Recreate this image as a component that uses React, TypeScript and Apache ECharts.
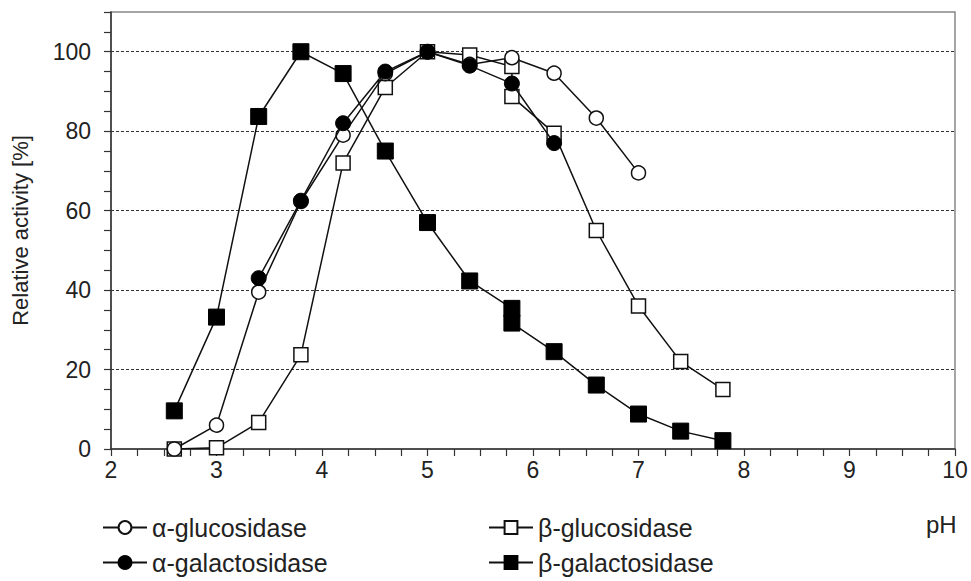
import React, { useEffect, useRef } from "react";
import * as echarts from "echarts";

const phAlphaGlc = [2.6, 3.0, 3.4, 3.8, 4.2, 4.6, 5.0, 5.4, 5.8, 6.2, 6.6, 7.0];
const alphaGlucosidase = [0, 6, 39.5, 62.3, 79, 94.5, 100, 96.8, 98.5, 94.6, 83.3, 69.5];

const phAlphaGal = [3.4, 3.8, 4.2, 4.6, 5.0, 5.4, 5.8, 6.2];
const alphaGalactosidase = [43, 62.5, 82, 95, 100, 96.5, 92, 77];

const phBetaGlc = [2.6, 3.0, 3.4, 3.8, 4.2, 4.6, 5.0, 5.4, 5.8, 5.8, 6.2, 6.6, 7.0, 7.4, 7.8];
const betaGlucosidase = [0, 0.3, 6.7, 23.7, 72, 91, 100, 99.2, 96.3, 88.7, 79.5, 55, 36, 22, 15];

const phBetaGal = [2.6, 3.0, 3.4, 3.8, 4.2, 4.6, 5.0, 5.4, 5.8, 5.8, 6.2, 6.6, 7.0, 7.4, 7.8];
const betaGalactosidase = [9.6, 33.2, 83.7, 100, 94.5, 75, 57, 42.3, 35.4, 31.7, 24.5, 16.1, 8.8, 4.5, 2.1];

const seriesNames = ["α-glucosidase", "α-galactosidase", "β-glucosidase", "β-galactosidase"];

const FONT = "'Liberation Sans', Arial, sans-serif";
const INK = "#111";

const pairs = (xs: number[], ys: number[]) => xs.map((x, i) => [x, ys[i]]);

export default function App() {
  const ref = useRef<HTMLDivElement>(null);
  useEffect(() => {
    document.body.style.margin = "0";
    if (!ref.current) return;
    const chart = echarts.init(ref.current, null, { renderer: "svg" });
    const lineStyle = { color: INK, width: 1.5 };
    const openItem = { color: "#fff", borderColor: INK, borderWidth: 1.5 };
    const filledItem = { color: "#000", borderColor: "#000", borderWidth: 1 };
    chart.setOption({
      animation: false,
      backgroundColor: "#fff",
      textStyle: { fontFamily: FONT },
      grid: {
        left: 111,
        right: 16,
        top: 12,
        bottom: 132,
        containLabel: false,
        show: true,
        borderColor: "#888",
        borderWidth: 1.5,
        backgroundColor: "transparent",
      },
      xAxis: {
        type: "value",
        min: 2,
        max: 10,
        interval: 0.25,
        axisLine: { show: true, lineStyle: { color: "#333", width: 1.5 } },
        axisTick: { show: true, inside: false, length: 7, lineStyle: { color: "#333", width: 1.2 } },
        axisLabel: {
          margin: 9,
          fontSize: 23,
          color: "#222",
          fontFamily: FONT,
          formatter: (v: number) => (Math.abs(v - Math.round(v)) < 1e-9 ? String(Math.round(v)) : ""),
        },
        splitLine: { show: false },
      },
      yAxis: [
        {
          type: "value",
          min: 0,
          max: 110,
          interval: 5,
          name: "Relative activity [%]",
          nameLocation: "middle",
          nameGap: 80,
          nameTextStyle: { fontSize: 22, color: "#222", fontFamily: FONT },
          axisLine: { show: true, lineStyle: { color: "#333", width: 1.5 } },
          axisTick: { show: true, inside: false, length: 7, lineStyle: { color: "#333", width: 1.2 } },
          axisLabel: {
            margin: 20,
            fontSize: 23,
            color: "#222",
            fontFamily: FONT,
            formatter: (v: number) => (v % 20 === 0 && v <= 100 ? String(v) : ""),
          },
          splitLine: { show: false },
        },
        {
          type: "value",
          min: 0,
          max: 110,
          interval: 20,
          position: "left",
          axisLine: { show: false },
          axisTick: { show: false },
          axisLabel: { show: false },
          splitLine: {
            show: true,
            showMinLine: false,
            showMaxLine: false,
            lineStyle: { color: "#333", width: 1, type: [3, 2] },
          },
        },
      ],
      legend: [
        {
          orient: "vertical",
          left: 97,
          top: 510,
          itemWidth: 44,
          itemHeight: 16,
          itemGap: 10,
          data: [seriesNames[0], seriesNames[1]],
          textStyle: { fontSize: 25, color: "#222", fontFamily: FONT },
        },
        {
          orient: "vertical",
          left: 483,
          top: 510,
          itemWidth: 44,
          itemHeight: 16,
          itemGap: 10,
          data: [seriesNames[2], seriesNames[3]],
          textStyle: { fontSize: 25, color: "#222", fontFamily: FONT },
        },
      ],
      graphic: [
        {
          type: "text",
          left: 926,
          top: 512,
          style: { text: "pH", fontSize: 24, fill: "#222", fontFamily: FONT },
        },
      ],
      series: [
        {
          name: seriesNames[2],
          type: "line",
          data: pairs(phBetaGlc, betaGlucosidase),
          symbol: "rect",
          symbolSize: 14,
          lineStyle,
          itemStyle: openItem,
          z: 2,
        },
        {
          name: seriesNames[0],
          type: "line",
          data: pairs(phAlphaGlc, alphaGlucosidase),
          symbol: "circle",
          symbolSize: 14,
          lineStyle,
          itemStyle: openItem,
          z: 3,
        },
        {
          name: seriesNames[1],
          type: "line",
          data: pairs(phAlphaGal, alphaGalactosidase),
          symbol: "circle",
          symbolSize: 15,
          lineStyle,
          itemStyle: filledItem,
          z: 4,
        },
        {
          name: seriesNames[3],
          type: "line",
          data: pairs(phBetaGal, betaGalactosidase),
          symbol: "rect",
          symbolSize: 16,
          lineStyle,
          itemStyle: filledItem,
          z: 5,
        },
      ],
    });
    return () => chart.dispose();
  }, []);
  return <div ref={ref} style={{ width: 971, height: 581 }} />;
}
